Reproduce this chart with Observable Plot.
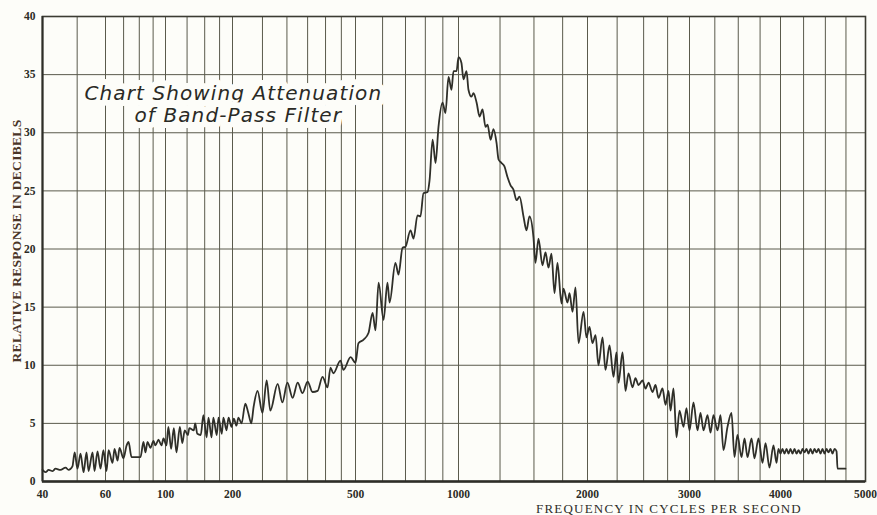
<!DOCTYPE html>
<html><head><meta charset="utf-8">
<script src="https://cdn.jsdelivr.net/npm/d3@7"></script>
<script src="https://cdn.jsdelivr.net/npm/@observablehq/plot@0.6"></script>
<style>
html,body{margin:0;padding:0;background:#fdfdf9;overflow:hidden;}
#chart svg{overflow:hidden;display:block;}
</style></head><body><div id="chart"></div>
<script>
// Tick values and labels
const freqTicks = [40, 60, 100, 200, 500, 1000, 2000, 3000, 4000, 5000];
const freqTickLabels = ["40", "60", "100", "200", "500", "1000", "2000", "3000", "4000", "5000"];
const freqGrid = [50, 70, 80, 90, 125, 150, 175, 250, 300, 350, 400, 450, 600, 700, 800, 900,
  1250, 1500, 1750, 2250, 2500, 2750, 3250, 3500, 3750, 4250, 4500, 4750];
const dbTicks = [0, 5, 10, 15, 20, 25, 30, 35, 40];

// Series (frequency in c/s, response in dB)
const frequency = [40, 40.8, 41.6, 42.7, 43.5, 44.9, 46.4, 47.3, 48.5, 49.2, 50.1, 51.1, 52.1, 53.1, 53.8, 55.2, 55.9, 57.0, 58.1, 59.2,
  60.5, 61.6, 63.7, 64.8, 66.5, 67.6, 69.9, 71.8, 73.0, 74.9, 80.8, 82.9, 84.3, 85.8, 88.0, 90.3, 91.8, 94.2, 96.6, 98.3,
  101, 103, 106, 109, 112, 116, 119, 122, 126, 128, 134, 136, 139, 144, 148, 153, 156, 161, 164, 170,
  173, 179, 182, 188, 192, 198, 202, 206, 209, 214, 220, 225, 230, 234, 241, 250, 258, 265, 280, 290,
  301, 313, 325, 337, 350, 363, 377, 391, 406, 415, 424, 447, 457, 482, 500, 510, 528, 546, 561, 572,
  584, 604, 620, 629, 654, 668, 686, 700, 724, 739, 759, 774, 790, 812, 823, 840, 857, 874, 898, 916,
  935, 954, 967, 987, 1000, 1016, 1027, 1044, 1055, 1072, 1084, 1102, 1120, 1138, 1156, 1169, 1188, 1207, 1227, 1240,
  1260, 1280, 1301, 1322, 1344, 1366, 1388, 1418, 1441, 1464, 1496, 1512, 1537, 1570, 1596, 1622, 1648, 1675, 1702, 1739,
  1758, 1796, 1816, 1845, 1875, 1906, 1958, 1989, 2016, 2040, 2065, 2089, 2123, 2148, 2183, 2218, 2244, 2262, 2299, 2326,
  2354, 2392, 2420, 2449, 2489, 2519, 2549, 2590, 2621, 2652, 2695, 2727, 2760, 2782, 2815, 2849, 2883, 2929, 2964, 3000,
  3038, 3077, 3106, 3136, 3176, 3206, 3236, 3278, 3309, 3340, 3383, 3426, 3458, 3491, 3536, 3570, 3604, 3650, 3684, 3731,
  3779, 3815, 3863, 3912, 3950, 3974, 4000, 4021, 4042, 4064, 4085, 4106, 4128, 4150, 4172, 4194, 4216, 4238, 4260, 4283,
  4305, 4328, 4351, 4373, 4397, 4420, 4443, 4466, 4490, 4514, 4537, 4561, 4585, 4610, 4634, 4646, 4744];
const response = [1.0, 0.8, 1.0, 0.9, 1.1, 1.0, 1.2, 1.0, 1.3, 2.5, 1.1, 2.4, 0.8, 2.5, 0.9, 2.5, 0.9, 2.6, 1.1, 2.7,
  0.9, 2.7, 1.6, 2.8, 1.8, 2.9, 2.0, 3.1, 3.4, 2.1, 2.1, 3.4, 2.5, 3.4, 2.9, 3.5, 3.1, 3.6, 3.1, 3.7,
  3.1, 4.7, 2.8, 4.6, 2.5, 4.7, 3.3, 4.4, 4.0, 4.6, 4.4, 5.0, 4.1, 4.0, 5.7, 3.8, 5.5, 3.8, 5.5, 4.0,
  5.5, 4.1, 5.5, 4.4, 5.5, 4.7, 5.4, 4.8, 5.5, 5.0, 6.7, 5.9, 5.0, 6.4, 7.8, 5.9, 8.7, 6.1, 8.4, 6.8,
  8.5, 7.2, 8.5, 7.6, 8.6, 7.7, 7.8, 9.0, 8.1, 9.8, 9.3, 10.4, 9.6, 10.7, 10.2, 11.9, 12.2, 12.8, 14.5, 13.0,
  17.1, 13.9, 17.1, 15.4, 18.8, 17.8, 20.1, 20.2, 21.6, 20.9, 22.9, 22.8, 24.8, 24.9, 25.9, 29.4, 27.4, 30.5, 32.6, 31.7,
  34.8, 33.7, 35.3, 35.3, 36.5, 36.0, 34.6, 35.3, 33.7, 33.1, 33.4, 32.6, 31.4, 32.0, 30.5, 30.7, 29.4, 30.3, 29.1, 27.7,
  27.4, 27.1, 26.2, 25.5, 25.1, 24.2, 24.5, 22.8, 21.6, 22.8, 21.0, 18.8, 20.9, 18.6, 19.7, 18.4, 19.6, 16.2, 18.8, 15.3,
  16.6, 15.4, 16.2, 14.6, 16.7, 11.9, 14.6, 12.4, 13.3, 11.9, 12.6, 10.0, 12.4, 9.6, 11.7, 9.0, 11.1, 8.5, 11.1, 7.8,
  9.3, 8.1, 8.9, 8.3, 8.7, 8.0, 8.5, 7.7, 8.3, 7.2, 8.0, 6.6, 7.8, 6.1, 8.0, 3.8, 6.1, 4.7, 6.3, 4.4,
  6.8, 4.4, 5.9, 4.4, 5.7, 4.2, 5.7, 4.4, 5.7, 2.7, 4.7, 5.9, 2.1, 4.0, 2.1, 3.7, 2.1, 3.7, 2.0, 3.7,
  1.6, 3.3, 1.2, 3.1, 1.6, 2.8, 2.4, 2.8, 2.4, 2.8, 2.4, 2.8, 2.4, 2.8, 2.4, 2.7, 2.4, 2.8, 2.5, 2.8,
  2.4, 2.8, 2.4, 2.8, 2.5, 2.8, 2.4, 2.8, 2.4, 2.8, 2.5, 2.8, 2.4, 2.8, 2.6, 1.1, 1.1];

const titleLines = ["Chart Showing Attenuation", "of Band-Pass Filter"];
const xTitle = "FREQUENCY IN CYCLES PER SECOND";
const yTitle = "RELATIVE RESPONSE IN DECIBELS";

const data = frequency.map((f, i) => ({f, db: response[i]}));

const paper = "#fdfdf9";
const gridColor = "#5a5a4c";
const inkColor = "#2f2f29";
const handFont = "'DejaVu Sans', 'Open Sans', sans-serif";

const chart = Plot.plot({
  width: 877,
  height: 515,
  marginLeft: 42,
  marginRight: 12,
  marginTop: 16,
  marginBottom: 34,
  style: {fontFamily: "'Liberation Serif', 'DejaVu Serif', serif", fontSize: "11.5px", fontWeight: "bold", color: "#2b2b25", background: paper},
  x: {
    type: "log",
    domain: freqTicks,
    range: [42, 105, 165, 232, 355, 458, 587, 689, 780, 865],
    axis: null
  },
  y: {
    domain: [0, 40],
    ticks: dbTicks,
    tickSize: 0,
    tickPadding: 7,
    label: null
  },
  marks: [
    Plot.ruleX(freqGrid.concat(freqTicks.slice(1, -1)), {stroke: gridColor, strokeWidth: 1}),
    Plot.ruleY(dbTicks.slice(1, -1), {stroke: gridColor, strokeWidth: 1}),
    Plot.frame({stroke: "#3c3c33", strokeWidth: 1.6}),
    Plot.ruleY([0], {stroke: "#2e2e28", strokeWidth: 2.4}),
    Plot.ruleX([40], {stroke: "#2e2e28", strokeWidth: 2}),
    Plot.line(data, {x: "f", y: "db", stroke: inkColor, strokeWidth: 1.8, curve: "monotone-x"}),
    // x tick labels
    Plot.text(freqTicks, {x: d => d, text: (d, i) => freqTickLabels[i], frameAnchor: "bottom", textAnchor: "middle", dy: 13, lineAnchor: "middle"}),
    // title, with a paper-coloured halo that hides the grid behind it
    Plot.text([titleLines[0]], {text: d => d, frameAnchor: "top-left", dx: 42, dy: 77, textAnchor: "start", lineAnchor: "middle",
      fontFamily: handFont, fontStyle: "italic", fontWeight: "normal", fontSize: 20, fill: "#2a2a25", stroke: paper, strokeWidth: 12}),
    Plot.text([titleLines[1]], {text: d => d, frameAnchor: "top-left", dx: 92, dy: 99, textAnchor: "start", lineAnchor: "middle",
      fontFamily: handFont, fontStyle: "italic", fontWeight: "normal", fontSize: 20, fill: "#2a2a25", stroke: paper, strokeWidth: 12}),
    Plot.text([xTitle], {text: d => d, frameAnchor: "bottom", textAnchor: "middle", dx: 215, dy: 27.5, lineAnchor: "middle",
      fontSize: 13, fontWeight: "normal", fill: "#2e2e2a"}),
    Plot.text([yTitle], {text: d => d, frameAnchor: "left", textAnchor: "middle", rotate: -90, dx: -26, dy: -8, lineAnchor: "middle",
      fontSize: 13.5, fontWeight: "bold", fill: "#4a3528"})
  ]
});

// letter spacing for the hand-lettered title and the axis titles
d3.select(chart).selectAll("text").each(function() {
  const t = this.textContent;
  if (t === titleLines[0] || t === titleLines[1]) this.style.letterSpacing = "1.1px";
  else if (t === xTitle) this.style.letterSpacing = "1.2px";
  else if (t === yTitle) this.style.letterSpacing = "0.3px";
});
document.getElementById("chart").appendChild(chart);
</script>
</body></html>
